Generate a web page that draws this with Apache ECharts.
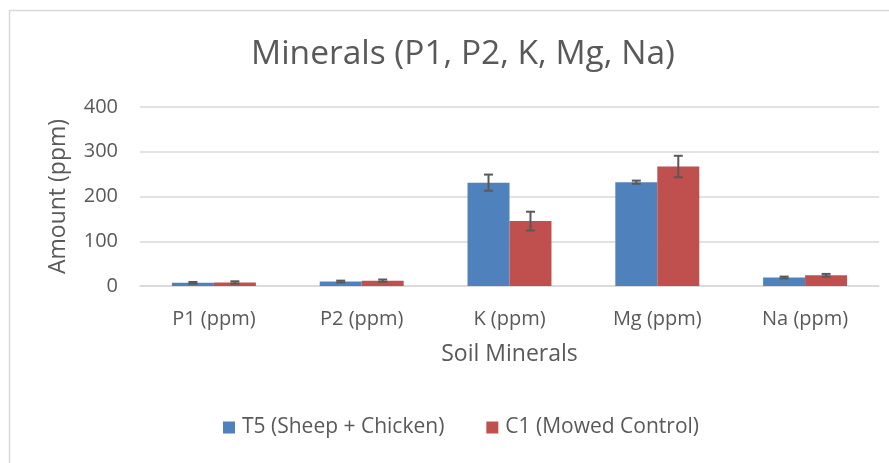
<!DOCTYPE html>
<html>
<head>
<meta charset="utf-8">
<script src="https://cdn.jsdelivr.net/npm/echarts@6/dist/echarts.min.js"></script>
<style>html,body{margin:0;padding:0;background:#fff}#c{width:889px;height:463px}</style>
</head>
<body>
<div id="c"></div>
<script>
var categories = ['P1 (ppm)', 'P2 (ppm)', 'K (ppm)', 'Mg (ppm)', 'Na (ppm)'];
var seriesNames = ['T5 (Sheep + Chicken)', 'C1 (Mowed Control)'];
var t5Values = [7, 10, 231, 232, 19];
var c1Values = [8, 12, 145, 267, 24];
var t5Err = [2, 2, 18, 3.5, 2];
var c1Err = [2.5, 2.5, 21, 24, 3];
var yTicks = [0, 100, 200, 300, 400];

var FONT = 'Open Sans';
var TXT = '#595959';
var BAR_W = 0.284;

function errSeries(values, errs, side) {
  return {
    type: 'custom',
    silent: true,
    z: 10,
    data: values.map(function (v, i) { return [i, v, errs[i]]; }),
    renderItem: function (params, api) {
      var i = api.value(0), v = api.value(1), e = api.value(2);
      var band = api.size([1, 0])[0];
      var off = side * band * BAR_W / 2;
      var hi = api.coord([i, v + e]);
      var lo = api.coord([i, v - e]);
      var x = hi[0] + off;
      var cw = 4.5;
      var st = { stroke: '#595959', lineWidth: 2 };
      return {
        type: 'group',
        children: [
          { type: 'line', shape: { x1: x, y1: hi[1], x2: x, y2: lo[1] }, style: st },
          { type: 'line', shape: { x1: x - cw, y1: hi[1], x2: x + cw, y2: hi[1] }, style: st },
          { type: 'line', shape: { x1: x - cw, y1: lo[1], x2: x + cw, y2: lo[1] }, style: st }
        ]
      };
    }
  };
}

var chart = echarts.init(document.getElementById('c'));
chart.setOption({
  animation: false,
  backgroundColor: '#fff',
  textStyle: { fontFamily: FONT, color: TXT },
  graphic: [{
    type: 'rect', left: 7, top: 8,
    shape: { width: 900, height: 480 },
    style: { fill: 'none', stroke: '#d9d9d9', lineWidth: 1.5 }, silent: true, z: -1
  }],
  title: {
    text: 'Minerals (P1, P2, K, Mg, Na)',
    left: 246, top: 32,
    textStyle: { fontFamily: FONT, fontSize: 33.5, fontWeight: 'normal', color: TXT }
  },
  legend: {
    bottom: 20, left: 218,
    itemWidth: 12, itemHeight: 12, itemGap: 42,
    icon: 'rect',
    textStyle: { fontFamily: FONT, fontSize: 21, color: TXT, padding: [0, 0, 0, 2] },
    data: seriesNames
  },
  grid: { left: 140, right: 10, top: 107, bottom: 177 },
  xAxis: {
    type: 'category',
    data: categories,
    name: 'Soil Minerals',
    nameLocation: 'middle',
    nameGap: 57,
    nameTextStyle: { fontFamily: FONT, fontSize: 23, color: TXT },
    axisLine: { lineStyle: { color: '#d9d9d9', width: 1.5 } },
    axisTick: { show: false },
    axisLabel: { fontFamily: FONT, fontSize: 20, color: TXT, margin: 23 }
  },
  yAxis: {
    type: 'value',
    min: yTicks[0], max: yTicks[yTicks.length - 1], interval: 100,
    name: 'Amount (ppm)',
    nameLocation: 'middle',
    nameGap: 70,
    nameTextStyle: { fontFamily: FONT, fontSize: 23, color: TXT },
    axisLine: { show: false },
    axisTick: { show: false },
    axisLabel: { fontFamily: FONT, fontSize: 20, color: TXT, margin: 22 },
    splitLine: { lineStyle: { color: '#d9d9d9', width: 1.5 } }
  },
  series: [
    { name: seriesNames[0], type: 'bar', data: t5Values, barWidth: (BAR_W * 100) + '%', barGap: '0%',
      itemStyle: { color: '#4f81bd' } },
    { name: seriesNames[1], type: 'bar', data: c1Values, barWidth: (BAR_W * 100) + '%', barGap: '0%',
      itemStyle: { color: '#c0504d' } },
    errSeries(t5Values, t5Err, -1),
    errSeries(c1Values, c1Err, 1)
  ]
});
</script>
</body>
</html>
